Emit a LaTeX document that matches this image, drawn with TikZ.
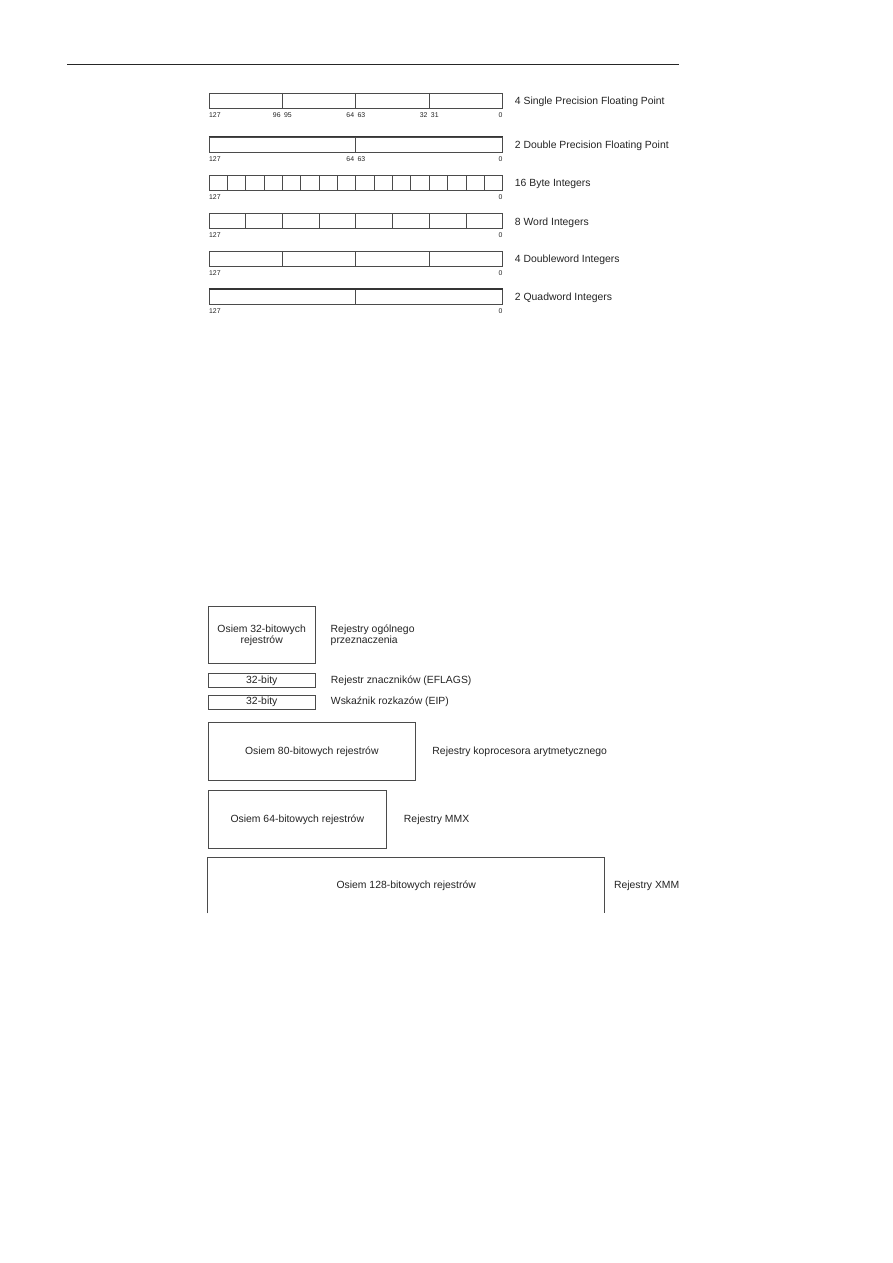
\documentclass[tikz,border=0pt]{standalone}
\usepackage{fontspec}
\setmainfont{Liberation Sans}
\usetikzlibrary{positioning, calc}
\definecolor{inkgray}{RGB}{75,75,75}
\definecolor{txtgray}{RGB}{35,35,35}

\begin{document}
\begin{tikzpicture}[
  x=1pt, y=-1pt,
  font=\fontsize{10.4}{11.6}\selectfont, text=txtgray,
  reg/.style={rectangle, draw=inkgray, line width=0.85pt, inner sep=0pt,
              minimum width=293pt, minimum height=15pt},
  divline/.style={draw=inkgray, line width=0.85pt},
  thicktop/.style={draw=inkgray!70!black, line width=1.4pt},
  bitno/.style={inner sep=0pt, font=\fontsize{6.9}{7.5}\selectfont},
  lbl/.style={inner sep=0pt, align=left},
  box/.style={rectangle, draw=inkgray, line width=0.95pt, inner sep=0pt,
              align=center}
]
\useasboundingbox (0,0) rectangle (893,1263);
% page rule
\draw[line width=1.3pt, black!85] (67,64.3) -- (679,64.3);

% packed data types in a 128-bit register
\foreach \nm/\n/\yy/\txt in {sp/4/100.8/{4 Single Precision Floating Point},
    dp/2/144.5/{2 Double Precision Floating Point}, bi/16/183.2/{16 Byte Integers},
    wi/8/221.2/{8 Word Integers}, di/4/259/{4 Doubleword Integers},
    qi/2/296.8/{2 Quadword Integers}} {
  \node[reg] (\nm) at (355.8,\yy) {};
  \pgfmathtruncatemacro\last{\n-1}
  \foreach \i in {1,...,\last}
    \draw[divline] ($(\nm.north west)!\i/\n!(\nm.north east)$)
                -- ($(\nm.south west)!\i/\n!(\nm.south east)$);
  \node[bitno, anchor=west] (\nm-127) at ([yshift=-6.3pt]\nm.south west) {127};
  \node[bitno, anchor=east] (\nm-0) at ([yshift=-6.3pt]\nm.south east) {0};
  \node[lbl, right=12pt of \nm, yshift=-1.2pt] (\nm-lbl) {\txt};
}
\draw[thicktop] (dp.north west) -- (dp.north east);
\draw[thicktop] (qi.north west) -- (qi.north east);
\foreach \row/\f/\hi/\lo in {sp/0.25/96/95, sp/0.5/64/63, sp/0.75/32/31, dp/0.5/64/63} {
  \coordinate (\row-\lo-c) at ($(\row.south west)!\f!(\row.south east)$);
  \node[bitno, anchor=east] (\row-\hi) at ([xshift=-1.5pt, yshift=-6.3pt]\row-\lo-c) {\hi};
  \node[bitno, anchor=west] (\row-\lo) at ([xshift=1.5pt, yshift=-6.3pt]\row-\lo-c) {\lo};
}

% register set
\node[box, minimum width=106.7pt, minimum height=57.3pt] (gpr) at (261.7,635.3)
  {Osiem 32-bitowych\\rejestrów};
\node[lbl, right=15pt of gpr] (gpr-lbl) {Rejestry ogólnego\\przeznaczenia};
\node[box, minimum width=107pt, minimum height=14.4pt] (eflags) at (261.8,680.5) {32-bity};
\node[lbl, right=15pt of eflags] (eflags-lbl) {Rejestr znaczników (EFLAGS)};
\node[box, minimum width=107pt, minimum height=14pt] (eip) at (261.8,702) {32-bity};
\node[lbl, right=15pt of eip] (eip-lbl) {Wskaźnik rozkazów (EIP)};
\node[box, minimum width=207pt, minimum height=58.4pt] (fpu) at (311.8,751.5)
  {Osiem 80-bitowych rejestrów};
\node[lbl, right=16.5pt of fpu] (fpu-lbl) {Rejestry koprocesora arytmetycznego};
\node[box, minimum width=178pt, minimum height=57.6pt] (mmx) at (297.3,819.5)
  {Osiem 64-bitowych rejestrów};
\node[lbl, right=17pt of mmx] (mmx-lbl) {Rejestry MMX};
\node[box, draw=none, minimum width=395.7pt, minimum height=55.3pt] (xmm) at (406.2,885.3)
  {Osiem 128-bitowych rejestrów};
\draw[draw=inkgray, line width=0.95pt]
  (xmm.south west) -- (xmm.north west) -- (xmm.north east) -- (xmm.south east);
\node[lbl, right=9.3pt of xmm] (xmm-lbl) {Rejestry XMM};
\end{tikzpicture}
\end{document}
